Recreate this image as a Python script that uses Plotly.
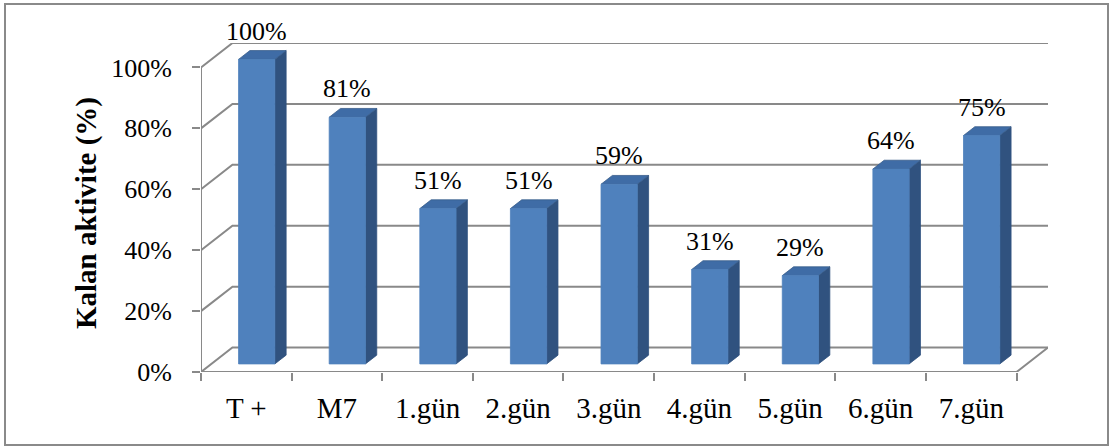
import plotly.graph_objects as go

# ---------------- data ----------------
categories = ["T +", "M7", "1.gün", "2.gün", "3.gün", "4.gün", "5.gün", "6.gün", "7.gün"]
values = [100, 81, 51, 51, 59, 31, 29, 64, 75]
value_labels = ["100%", "81%", "51%", "51%", "59%", "31%", "29%", "64%", "75%"]
y_ticks = [0, 20, 40, 60, 80, 100]
y_tick_labels = ["0%", "20%", "40%", "60%", "80%", "100%"]
y_title = "Kalan aktivite (%)"

# ---------------- 3D look parameters ----------------
n = len(categories)
DX = 0.347      # depth of the chart floor, in category units
DY = 8.03       # depth of the chart floor, in value units
F1, F2 = 0.33, 0.69   # bar front/back depth fraction
HW = 0.2        # half bar width (category units)

GRID = "#898989"
FRONT = "#4F81BD"
SIDE = "#30527F"
TOP = "#3F6CA6"
FONT = "Liberation Serif, Times New Roman, serif"

fig = go.Figure()

# ---------------- walls / gridlines ----------------
gx, gy = [], []
for v in y_ticks:
    gx += [0, DX, n + DX, None]
    gy += [v, v + DY, v + DY, None]
# front value axis
gx += [0, 0, None]
gy += [y_ticks[0], y_ticks[-1], None]
# floor front edge and right diagonal
gx += [0, n, n + DX, None]
gy += [0, 0, DY, None]
fig.add_trace(go.Scatter(x=gx, y=gy, mode="lines",
                         line=dict(color=GRID, width=2),
                         hoverinfo="skip", showlegend=False))

# ---------------- bars ----------------
fx, fy, sx, sy, tx, ty = [], [], [], [], [], []
for i, v in enumerate(values):
    xc = i + 0.5
    xl1, xr1 = xc - HW + F1 * DX, xc + HW + F1 * DX
    xl2, xr2 = xc - HW + F2 * DX, xc + HW + F2 * DX
    b1, b2 = F1 * DY, F2 * DY
    fx += [xl1, xr1, xr1, xl1, xl1, None]
    fy += [b1, b1, v + b1, v + b1, b1, None]
    sx += [xr1, xr2, xr2, xr1, xr1, None]
    sy += [b1, b2, v + b2, v + b1, b1, None]
    tx += [xl1, xr1, xr2, xl2, xl1, None]
    ty += [v + b1, v + b1, v + b2, v + b2, v + b1, None]

fig.add_trace(go.Scatter(x=sx, y=sy, mode="lines", fill="toself", fillcolor=SIDE,
                         line=dict(color=SIDE, width=0.8),
                         hoverinfo="skip", showlegend=False))
fig.add_trace(go.Scatter(x=tx, y=ty, mode="lines", fill="toself", fillcolor=TOP,
                         line=dict(color="#385D8A", width=0.8),
                         hoverinfo="skip", showlegend=False))
fig.add_trace(go.Scatter(x=fx, y=fy, mode="lines", fill="toself", fillcolor=FRONT,
                         line=dict(color=FRONT, width=0.8),
                         hoverinfo="skip", showlegend=False))

# ---------------- data labels ----------------
for i, (v, lab) in enumerate(zip(values, value_labels)):
    fig.add_annotation(x=i + 0.5 + F1 * DX, y=v + F2 * DY, text=lab,
                       showarrow=False, yanchor="bottom", yshift=3,
                       font=dict(family=FONT, size=26, color="black"))

# ---------------- axis title ----------------
L, R, T, B = 201, 62, 43, 74
W_px, H_px = 1110 - L - R, 446 - T - B


def px_x(p):
    return (p - L) / W_px


def px_y(p):
    return (446 - B - p) / H_px


fig.add_annotation(x=px_x(86), y=px_y(213), xref="paper", yref="paper",
                   xanchor="center", yanchor="middle",
                   text="<b>" + y_title + "</b>", textangle=-90, showarrow=False,
                   font=dict(family=FONT, size=29, color="black"))

# outer chart border
fig.add_shape(type="rect", xref="paper", yref="paper",
              x0=px_x(5), x1=px_x(1108), y0=px_y(445), y1=px_y(4),
              line=dict(color="#8a8a8a", width=2), layer="below")

fig.update_layout(
    width=1110, height=446,
    margin=dict(l=L, r=R, t=T, b=B, pad=0),
    paper_bgcolor="white", plot_bgcolor="white",
    showlegend=False,
    xaxis=dict(range=[0, n + DX], tickmode="array",
               tickvals=[i + 0.5 for i in range(n)], ticktext=categories,
               showgrid=False, zeroline=False, showline=False, ticks="",
               ticklabelstandoff=16,
               tickfont=dict(family=FONT, size=29, color="black"),
               minor=dict(tickmode="array", tickvals=list(range(n + 1)),
                          ticks="outside", ticklen=8, tickwidth=2,
                          tickcolor=GRID, showgrid=False),
               fixedrange=True),
    yaxis=dict(range=[0, 100 + DY], tickmode="array",
               tickvals=y_ticks, ticktext=y_tick_labels,
               showgrid=False, zeroline=False, showline=False,
               ticks="outside", ticklen=8, tickwidth=2, tickcolor=GRID,
               ticklabelstandoff=15,
               tickfont=dict(family=FONT, size=26, color="black"),
               fixedrange=True),
)

fig.write_html("out.html")
